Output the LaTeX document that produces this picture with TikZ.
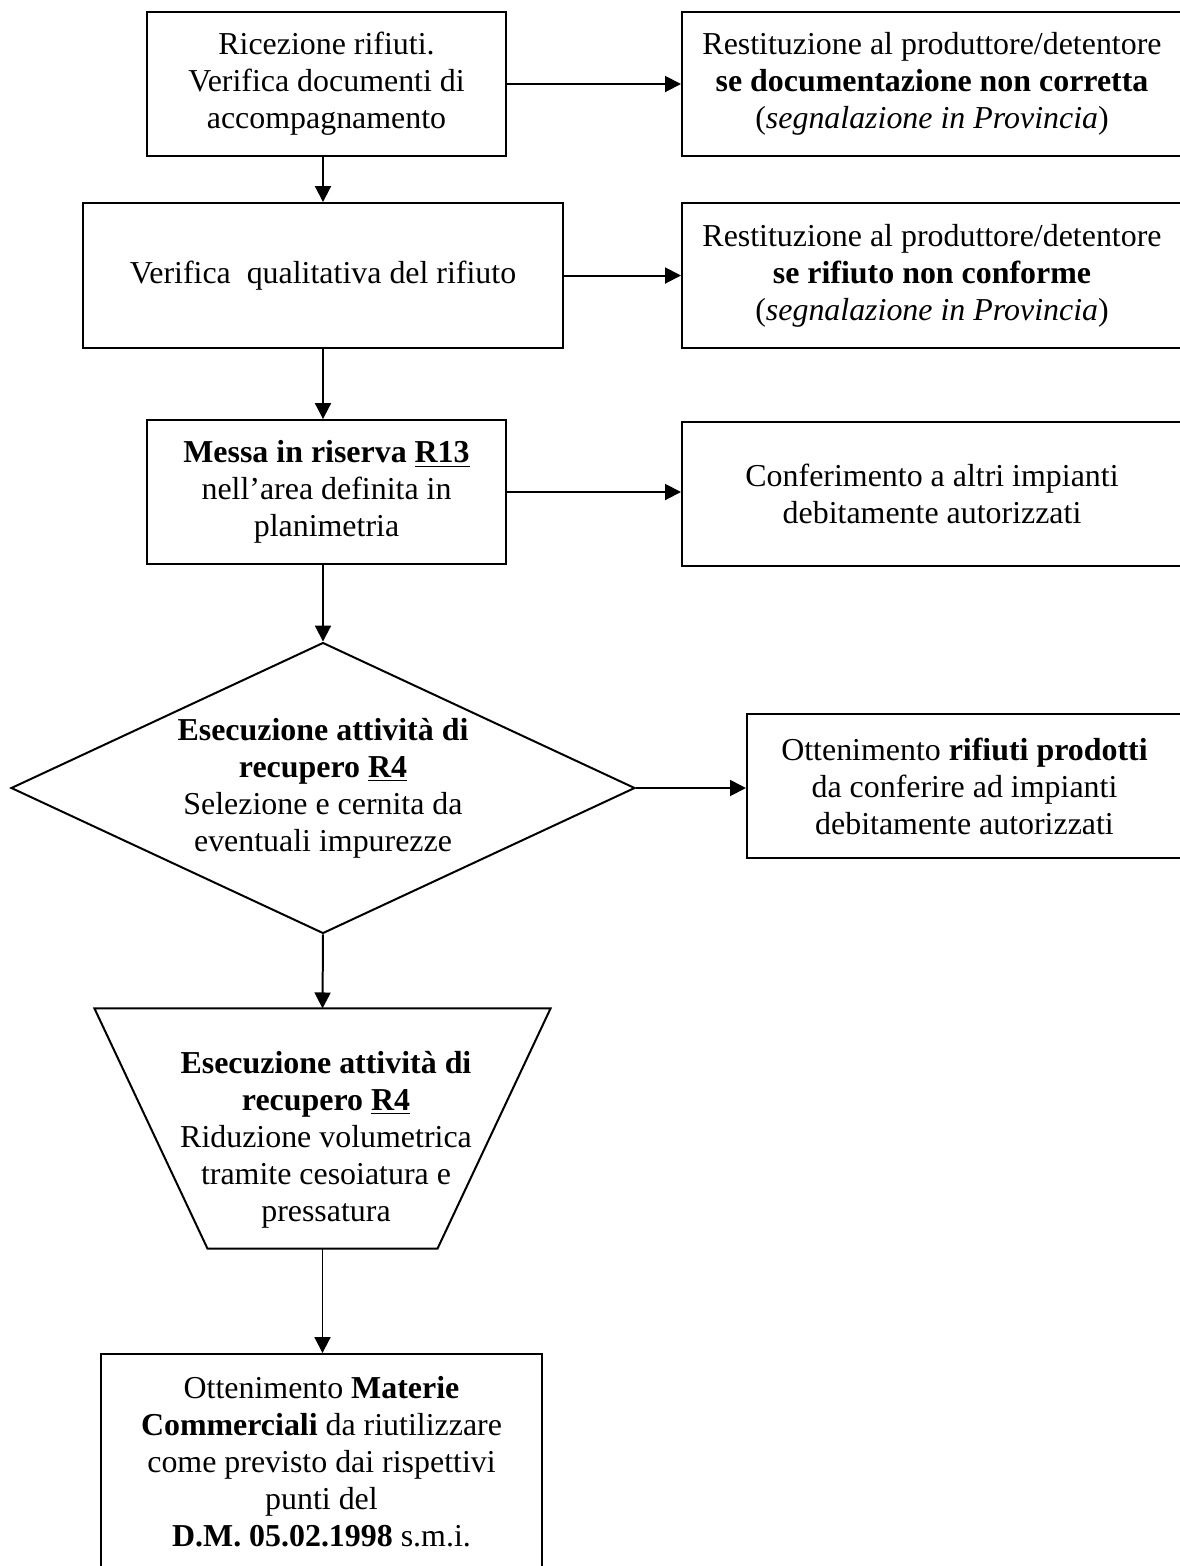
\documentclass[tikz,border=0pt]{standalone}
\usepackage{fontspec}
\setmainfont{Liberation Serif}
\usetikzlibrary{arrows.meta,shapes.geometric}
\begin{document}
\begin{tikzpicture}[x=0.376pt,y=-0.376pt,line join=miter,font=\fontsize{12}{13.9}\selectfont,>={Triangle[length=6pt,width=6pt]},
    box/.style={draw,line width=0.75pt,align=center,inner sep=0pt},
    link/.style={->,line width=0.75pt}]
            \useasboundingbox (0,0) rectangle (1180,1566);
            \node[box,minimum width=135pt,minimum height=54.1pt] (ricez) at (326.5,84) {Ricezione rifiuti.\\ Verifica documenti di\\ accompagnamento};
            \node[box,minimum width=188pt,minimum height=54.1pt] (restdoc) at (932,84) {Restituzione al produttore/detentore\\ \textbf{se documentazione non corretta}\\ (\textit{segnalazione in Provincia})};
            \node[box,minimum width=180.5pt,minimum height=54.5pt] (verqual) at (323,275.5) {Verifica~~qualitativa del rifiuto};
            \node[box,minimum width=188pt,minimum height=54.5pt] (restrif) at (932,275.5) {Restituzione al produttore/detentore\\ \textbf{se rifiuto non conforme}\\ (\textit{segnalazione in Provincia})};
            \node[box,minimum width=135pt,minimum height=54.1pt] (riserva) at (326.5,492) {\textbf{Messa in riserva \underline{R13}}\\ nell’area definita in\\ planimetria};
            \node[box,minimum width=188pt,minimum height=54.1pt] (confer) at (932,494) {Conferimento a altri impianti\\ debitamente autorizzati};
            \node[box,diamond,aspect=2.144,minimum width=234.6pt,minimum height=109.4pt] (selez) at (323,788) {\textbf{Esecuzione attività di}\\ \textbf{recupero \underline{R4}}\\ Selezione e cernita da\\ eventuali impurezze};
            \node[box,minimum width=163.6pt,minimum height=54.1pt] (rifprod) at (964.5,786) {Ottenimento \textbf{rifiuti prodotti}\\ da conferire ad impianti\\ debitamente autorizzati};
            \node[minimum width=171.1pt,minimum height=89.9pt,inner sep=0pt] (riduz) at (322.5,1128.5) {};
            \draw[line width=0.75pt] (riduz.north west) -- (riduz.north east) -- ([xshift=-42.5pt]riduz.south east) -- ([xshift=42.5pt]riduz.south west) -- cycle;
            \node[align=center] (riduztxt) at (326,1139.5) {\textbf{Esecuzione attività di}\\ \textbf{recupero \underline{R4}}\\ Riduzione volumetrica\\ tramite cesoiatura e\\ pressatura};
            \node[box,minimum width=165.8pt,minimum height=81.2pt] (materie) at (321.5,1462) {Ottenimento \textbf{Materie}\\ \textbf{Commerciali} da riutilizzare\\ come previsto dai rispettivi\\ punti del\\ \textbf{D.M. 05.02.1998} s.m.i.};
            \draw[link] (ricez) -- (restdoc);
            \draw[link] (verqual.north |- ricez.south) -- (verqual.north);
            \draw[link] (verqual) -- (restrif);
            \draw[link] (verqual.south) -- (verqual.south |- riserva.north);
            \draw[link] (riserva.east) -- (riserva.east -| confer.west);
            \draw[link] (selez.north |- riserva.south) -- (selez.north);
            \draw[link] (selez.east) -- (selez.east -| rifprod.west);
            \draw[link] (selez.south) -- (riduz.north);
            \draw[link] (riduz.south) -- (riduz.south |- materie.north);
        \end{tikzpicture}
\end{document}
